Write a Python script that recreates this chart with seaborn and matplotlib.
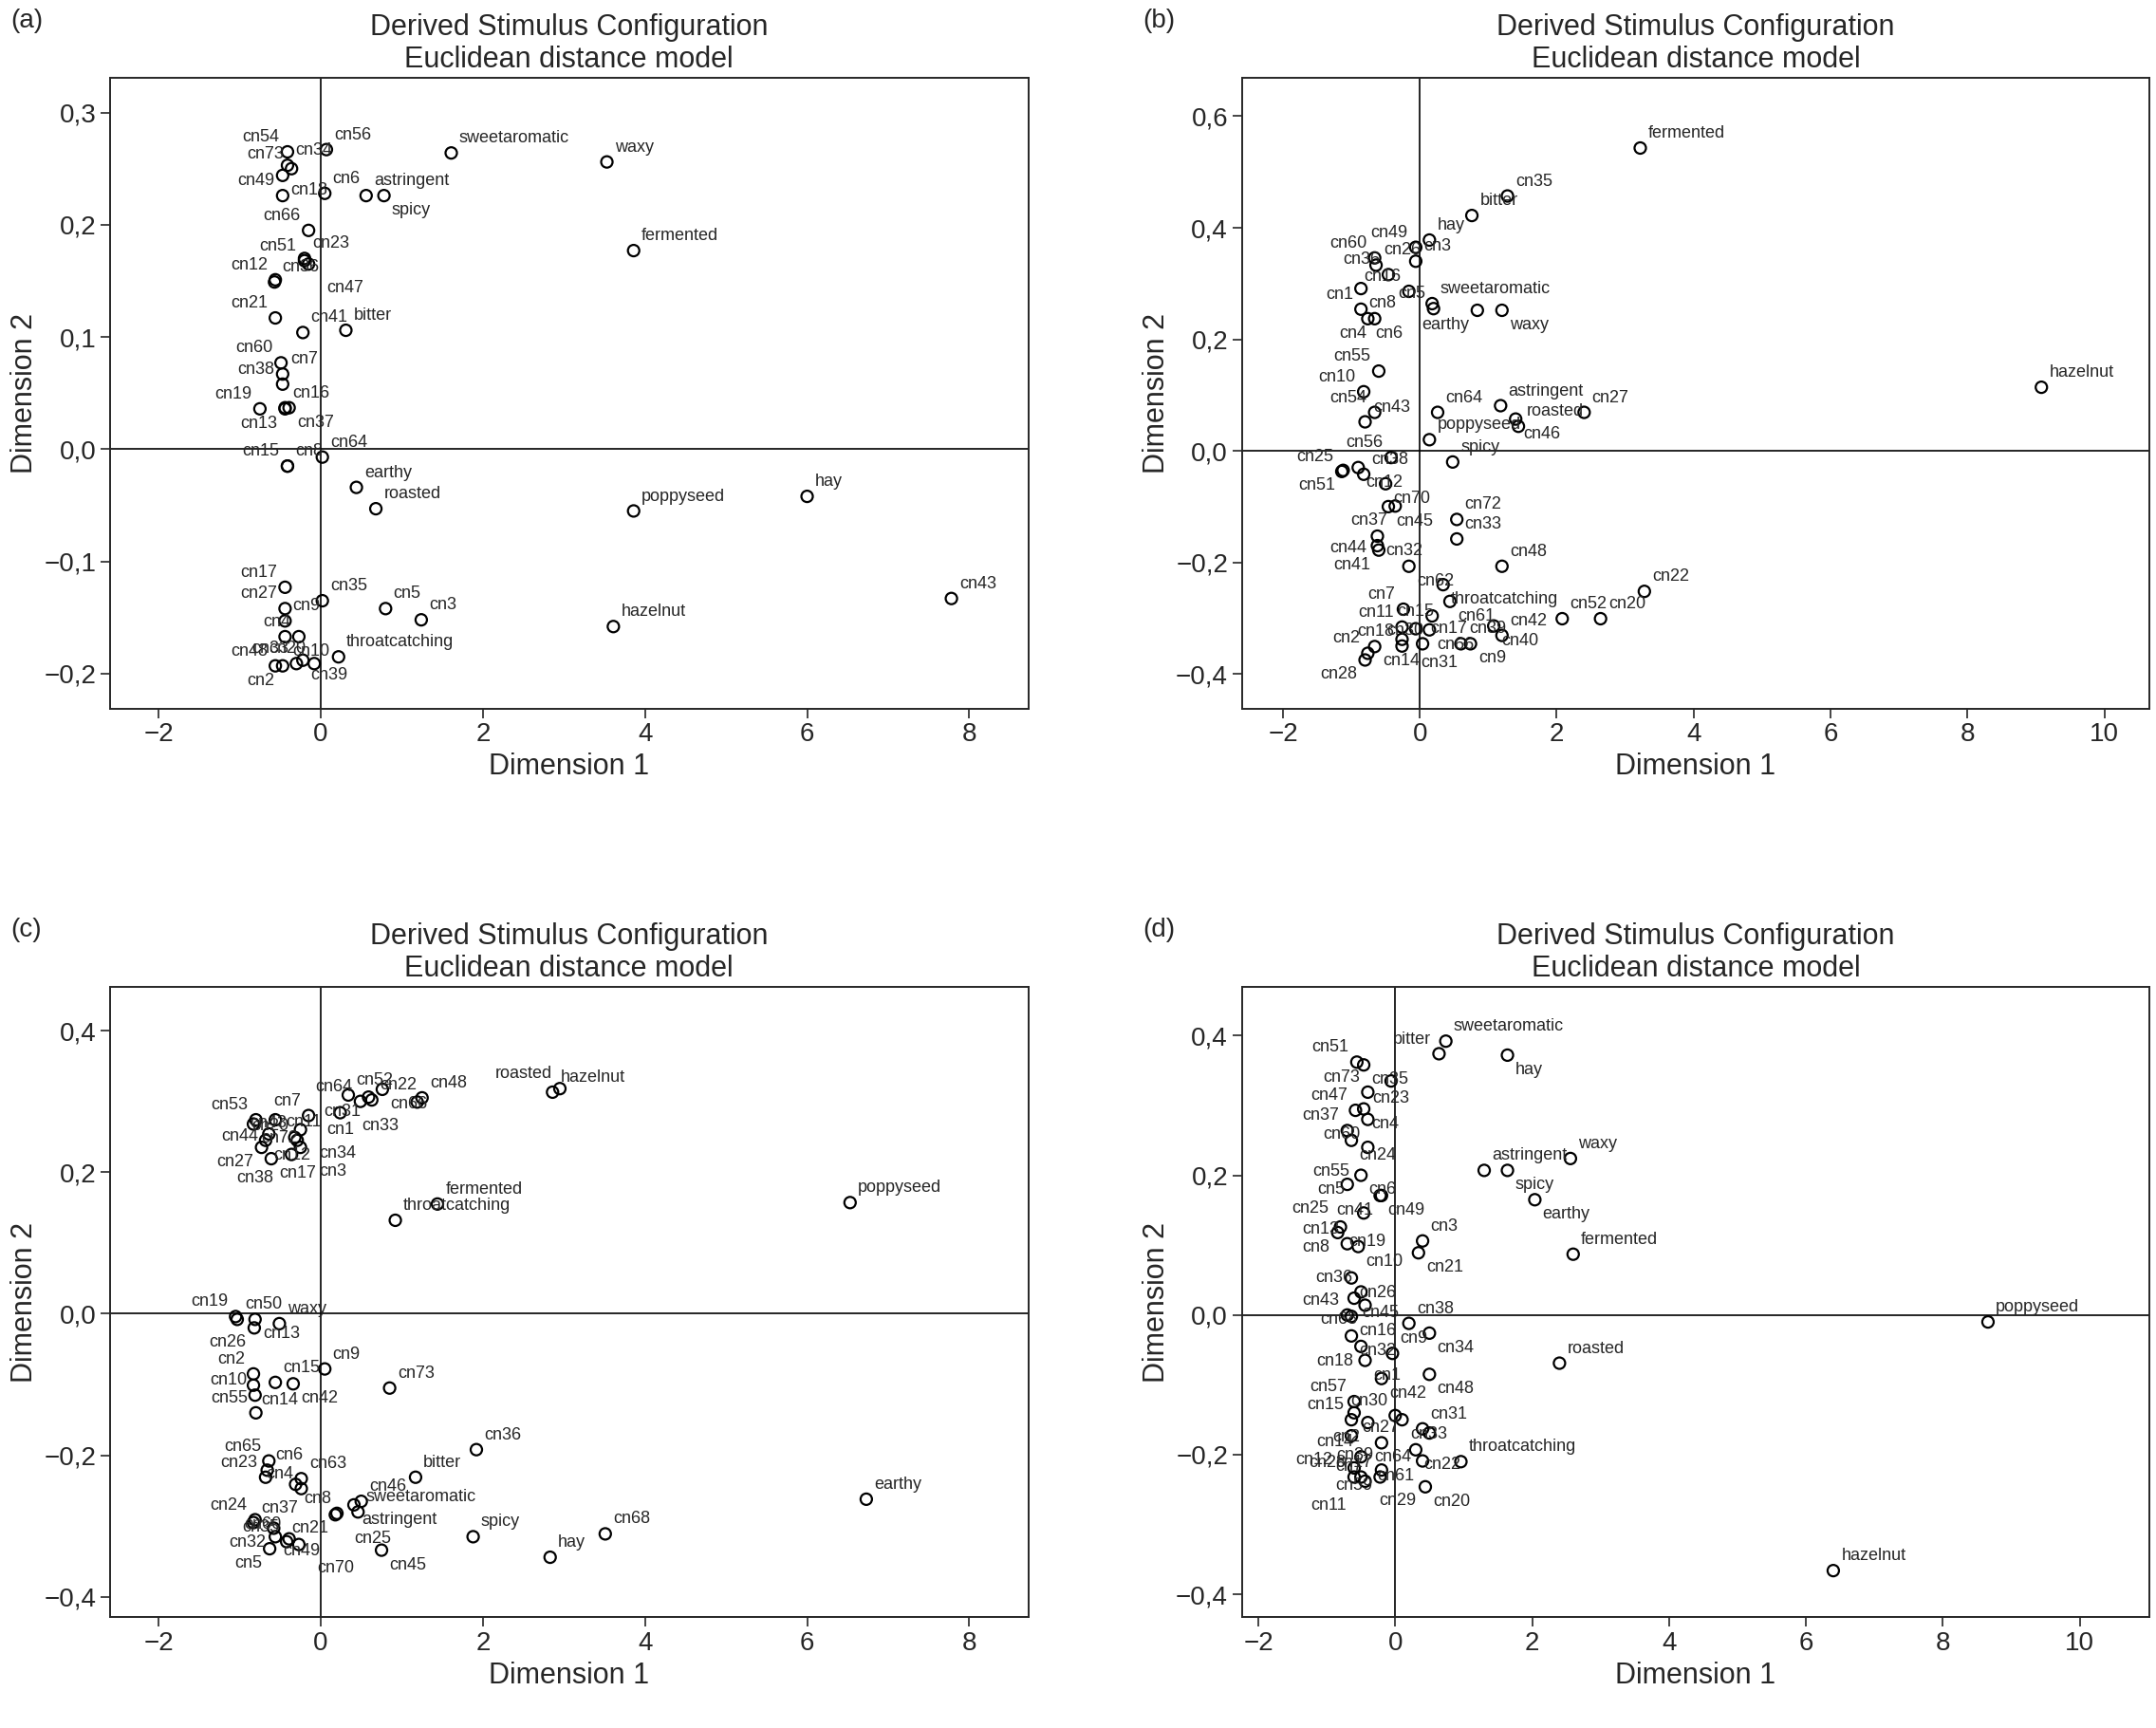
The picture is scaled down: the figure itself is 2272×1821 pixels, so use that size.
import matplotlib
matplotlib.use("Agg")
import matplotlib.pyplot as plt
from matplotlib.ticker import FuncFormatter, MultipleLocator
import seaborn as sns
import pandas as pd

# panel (a)
names_a = ["sweetaromatic", "waxy", "fermented", "cn56", "cn54", "cn34", "cn73", "cn18", "cn49",
           "astringent", "spicy", "cn6", "cn66", "cn51", "cn12", "cn36", "cn21", "cn23", "cn47", "cn41",
           "bitter", "cn60", "cn7", "cn38", "cn19", "cn16", "cn37", "cn13", "cn15", "cn64", "cn8",
           "earthy", "roasted", "poppyseed", "hay", "cn35", "cn17", "cn27", "cn9", "cn4", "cn10",
           "cn5", "cn3", "hazelnut", "cn43", "cn39", "throatcatching", "cn48", "cn2", "cn33", "cn20"]
x_a = [1.61, 3.53, 3.86, 0.07, -0.41, -0.41, -0.36, -0.47, -0.47,
       0.56, 0.78, 0.05, -0.15, -0.2, -0.56, -0.57, -0.56, -0.2, -0.15, -0.22,
       0.31, -0.49, -0.47, -0.47, -0.75, -0.44, -0.39, -0.44, -0.41, 0.02, -0.41,
       0.44, 0.68, 3.86, 6.0, 0.02, -0.44, -0.44, -0.44, -0.27, -0.44,
       0.8, 1.24, 3.61, 7.78, -0.22, 0.22, -0.56, -0.47, -0.3, -0.08]
y_a = [0.264, 0.256, 0.177, 0.267, 0.265, 0.253, 0.25, 0.244, 0.226,
       0.226, 0.226, 0.228, 0.195, 0.168, 0.151, 0.149, 0.117, 0.17, 0.165, 0.104,
       0.106, 0.077, 0.067, 0.058, 0.036, 0.037, 0.037, 0.036, -0.015, -0.007, -0.015,
       -0.034, -0.053, -0.055, -0.042, -0.135, -0.123, -0.142, -0.153, -0.167, -0.167,
       -0.142, -0.152, -0.158, -0.133, -0.188, -0.185, -0.193, -0.193, -0.191, -0.191]

# panel (b)
names_b = ["fermented", "cn35", "bitter", "hay", "cn49", "cn60", "cn3", "cn26", "cn36", "sweetaromatic",
           "cn8", "cn16", "waxy", "cn5", "earthy", "cn1", "cn6", "cn4", "cn55", "cn10", "cn54", "cn43",
           "cn64", "astringent", "cn46", "roasted", "cn27", "hazelnut", "poppyseed", "spicy", "cn56",
           "cn12", "cn25", "cn51", "cn38", "cn70", "cn45", "cn37", "cn72", "cn33", "cn32", "cn41",
           "cn44", "cn62", "cn48", "throatcatching", "cn61", "cn7", "cn30", "cn40", "cn52", "cn22",
           "cn20", "cn11", "cn15", "cn66", "cn42", "cn2", "cn14", "cn31", "cn17", "cn9", "cn28",
           "cn18", "cn39"]
x_b = [3.22, 1.28, 0.76, 0.14, -0.06, -0.66, -0.06, -0.64, -0.46, 0.18,
       -0.86, -0.16, 1.2, 0.2, 0.84, -0.86, -0.76, -0.66, -0.6, -0.82, -0.66, -0.8,
       0.26, 1.18, 1.4, 1.44, 2.4, 9.08, 0.14, 0.48, -0.42,
       -0.9, -1.14, -1.12, -0.82, -0.5, -0.46, -0.36, 0.54, 0.54, -0.62, -0.6,
       -0.62, -0.16, 1.2, 0.34, 0.44, -0.24, 0.18, 1.08, 2.08, 3.28,
       2.64, -0.26, -0.06, 0.14, 1.2, -0.76, -0.66, -0.26, 0.04, 0.74, -0.8,
       -0.26, 0.6]
y_b = [0.543, 0.457, 0.422, 0.378, 0.365, 0.346, 0.34, 0.333, 0.316, 0.264,
       0.291, 0.286, 0.252, 0.255, 0.252, 0.254, 0.237, 0.237, 0.143, 0.106, 0.069, 0.052,
       0.069, 0.081, 0.057, 0.044, 0.069, 0.114, 0.02, -0.02, -0.012,
       -0.03, -0.037, -0.035, -0.042, -0.059, -0.1, -0.099, -0.123, -0.158, -0.153, -0.178,
       -0.17, -0.207, -0.207, -0.24, -0.27, -0.284, -0.296, -0.314, -0.301, -0.252,
       -0.301, -0.316, -0.319, -0.321, -0.331, -0.363, -0.351, -0.338, -0.346, -0.346, -0.375,
       -0.35, -0.346]

# panel (c)
names_c = ["hazelnut", "roasted", "poppyseed", "earthy", "fermented", "throatcatching", "cn52", "cn66",
           "cn48", "cn33", "cn64", "cn31", "cn22", "cn1", "cn7", "cn53", "cn72", "cn11", "cn34", "cn44",
           "cn12", "cn43", "cn20", "cn17", "cn27", "cn3", "cn38", "cn19", "cn50", "waxy", "cn13", "cn26",
           "cn9", "cn73", "cn2", "cn15", "cn42", "cn14", "cn10", "cn55", "cn65", "cn6", "cn23", "cn63",
           "cn8", "cn4", "cn36", "bitter", "cn46", "astringent", "cn21", "cn25", "spicy", "hay", "cn68",
           "cn45", "sweetaromatic", "cn24", "cn37", "cn32", "cn49", "cn5", "cn70", "cn60", "cn35"]
x_c = [2.86, 2.95, 6.53, 6.73, 1.44, 0.92, 0.34, 0.76,
       1.25, 1.19, 0.49, 0.59, 0.63, 0.24, -0.15, -0.8, -0.83, -0.56, -0.25, -0.64,
       -0.68, -0.32, -0.29, -0.61, -0.73, -0.25, -0.36, -1.05, -1.03, -0.51, -0.81, -0.82,
       0.05, 0.85, -0.83, -0.56, -0.34, -0.83, -0.81, -0.8, -0.64, -0.66, -0.68, -0.24,
       -0.31, -0.24, 1.92, 1.17, 0.5, 0.41, 0.2, 0.18, 1.88, 2.83, 3.51,
       0.75, 0.46, -0.81, -0.83, -0.58, -0.56, -0.63, -0.27, -0.39, -0.42]
y_c = [0.313, 0.318, 0.157, -0.262, 0.155, 0.132, 0.309, 0.317,
       0.305, 0.299, 0.3, 0.306, 0.302, 0.284, 0.28, 0.274, 0.268, 0.274, 0.26, 0.254,
       0.245, 0.249, 0.245, 0.219, 0.235, 0.235, 0.225, -0.004, -0.008, -0.014, -0.008, -0.02,
       -0.078, -0.105, -0.085, -0.097, -0.099, -0.101, -0.115, -0.14, -0.208, -0.221, -0.231, -0.233,
       -0.241, -0.247, -0.192, -0.231, -0.265, -0.27, -0.282, -0.284, -0.315, -0.344, -0.311,
       -0.334, -0.28, -0.291, -0.295, -0.303, -0.315, -0.332, -0.326, -0.318, -0.322]

# panel (d)
names_d = ["sweetaromatic", "bitter", "hay", "cn51", "cn35", "cn23", "cn73", "cn47", "cn4", "cn60",
           "cn37", "cn24", "cn55", "cn6", "cn49", "cn41", "cn25", "astringent", "waxy", "spicy", "earthy",
           "fermented", "cn19", "cn8", "cn5", "cn3", "cn10", "cn21", "cn13", "cn26", "cn36", "cn45",
           "cn68", "cn43", "cn16", "cn38", "cn9", "cn34", "cn32", "cn18", "poppyseed", "roasted", "cn42",
           "cn48", "cn1", "cn57", "cn27", "cn30", "cn15", "cn2", "cn33", "cn31", "cn12", "cn64", "cn22",
           "cn7", "cn61", "cn14", "cn59", "throatcatching", "cn29", "cn39", "cn17", "cn20", "cn28",
           "cn11", "hazelnut"]
x_d = [0.74, 0.64, 1.64, -0.56, -0.46, -0.06, -0.4, -0.58, -0.46, -0.4,
       -0.7, -0.64, -0.4, -0.5, -0.22, -0.2, -0.7, 1.3, 2.56, 1.64, 2.04,
       2.6, -0.8, -0.84, -0.46, 0.4, -0.54, 0.34, -0.7, -0.64, -0.5, -0.6,
       -0.44, -0.7, -0.64, 0.2, -0.04, 0.5, -0.64, -0.5, 8.66, 2.4, -0.2,
       0.5, -0.44, -0.6, -0.6, 0.0, -0.64, -0.4, 0.1, 0.4, -0.64, 0.5, 0.3,
       -0.2, 0.4, -0.5, -0.6, 0.96, -0.5, -0.2, -0.22, 0.44, -0.6,
       -0.44, 6.4]
y_d = [0.392, 0.374, 0.372, 0.362, 0.358, 0.335, 0.319, 0.293, 0.295, 0.28,
       0.264, 0.25, 0.24, 0.2, 0.171, 0.171, 0.187, 0.207, 0.224, 0.207, 0.165,
       0.087, 0.126, 0.118, 0.146, 0.106, 0.098, 0.089, 0.102, 0.053, 0.033, 0.024,
       0.014, 0.0, -0.002, -0.012, -0.055, -0.026, -0.03, -0.045, -0.01, -0.069, -0.091,
       -0.085, -0.065, -0.124, -0.14, -0.144, -0.15, -0.154, -0.15, -0.163, -0.173, -0.169, -0.193,
       -0.183, -0.209, -0.203, -0.219, -0.21, -0.232, -0.222, -0.232, -0.246, -0.232,
       -0.238, -0.366]

panels = [
    ("(a)", names_a, x_a, y_a, (-2.6, 8.73), (-0.231, 0.331), 0.1, [0.051, 0.590, 0.426, 0.365]),
    ("(b)", names_b, x_b, y_b, (-2.6, 10.66), (-0.462, 0.669), 0.2, [0.576, 0.590, 0.421, 0.365]),
    ("(c)", names_c, x_c, y_c, (-2.6, 8.73), (-0.429, 0.462), 0.2, [0.051, 0.064, 0.426, 0.365]),
    ("(d)", names_d, x_d, y_d, (-2.24, 11.02), (-0.433, 0.47), 0.2, [0.576, 0.064, 0.421, 0.365]),
]

sns.set_style("ticks")
plt.rcParams["font.family"] = ["Liberation Sans", "DejaVu Sans"]


def x_fmt(v, pos):
    return f"{v:.0f}".replace("-", "\u2212")


def y_fmt(v, pos):
    return f"{v:.1f}".replace(".", ",").replace("-", "\u2212")


def overlaps(a, boxes):
    for b in boxes:
        if a.x0 < b.x1 and a.x1 > b.x0 and a.y0 < b.y1 and a.y1 > b.y0:
            return True
    return False


# greedy label placement: try a few offsets, keep the first that is free
def place_labels(ax, df, fig):
    renderer = fig.canvas.get_renderer()
    placed = []
    cands = [(6, 5, "left", "bottom"), (-6, 5, "right", "bottom"),
             (6, -5, "left", "top"), (-6, -5, "right", "top"),
             (8, -2, "left", "center"), (-8, -2, "right", "center"),
             (0, 7, "center", "bottom"), (0, -7, "center", "top"),
             (-14, 12, "right", "bottom"), (14, 12, "left", "bottom"),
             (-14, -12, "right", "top"), (14, -12, "left", "top"),
             (-20, 2, "right", "center"), (20, 2, "left", "center")]
    for _, r in df.iterrows():
        order = cands if r.x >= 0 else [cands[1], cands[0]] + cands[2:]
        best = None
        for dx, dy, ha, va in order:
            t = ax.annotate(r["name"], (r.x, r.y), xytext=(dx, dy), textcoords="offset points",
                            ha=ha, va=va, fontsize=13)
            bb = t.get_window_extent(renderer).expanded(1.02, 1.0)
            if not overlaps(bb, placed):
                best = (t, bb)
                break
            t.remove()
        if best is None:
            dx, dy, ha, va = order[0]
            t = ax.annotate(r["name"], (r.x, r.y), xytext=(dx, dy), textcoords="offset points",
                            ha=ha, va=va, fontsize=13)
            best = (t, t.get_window_extent(renderer))
        placed.append(best[1])


fig = plt.figure(figsize=(22.72, 18.21), dpi=100)
for tag, names, xs, ys, xlim, ylim, ystep, rect in panels:
    ax = fig.add_axes(rect)
    df = pd.DataFrame({"x": xs, "y": ys, "name": names})
    sns.scatterplot(data=df, x="x", y="y", ax=ax, s=75, facecolors="none",
                    edgecolor="black", linewidth=1.6)
    ax.axhline(0, color="black", lw=1.2)
    ax.axvline(0, color="black", lw=1.2)
    ax.set_xlim(*xlim)
    ax.set_ylim(*ylim)
    ax.xaxis.set_major_locator(MultipleLocator(2))
    ax.yaxis.set_major_locator(MultipleLocator(ystep))
    ax.xaxis.set_major_formatter(FuncFormatter(x_fmt))
    ax.yaxis.set_major_formatter(FuncFormatter(y_fmt))
    ax.tick_params(labelsize=20, width=1.2, length=7)
    for sp in ax.spines.values():
        sp.set_linewidth(1.4)
    ax.set_xlabel("Dimension 1", fontsize=22)
    ax.set_ylabel("Dimension 2", fontsize=22)
    ax.set_title("Derived Stimulus Configuration\nEuclidean distance model", fontsize=22,
                 linespacing=1.15, pad=8)
    fig.text(rect[0] - 0.046, rect[1] + rect[3] + 0.033, tag, fontsize=20, va="center")
    place_labels(ax, df, fig)

fig.savefig("out.png", dpi=100)
